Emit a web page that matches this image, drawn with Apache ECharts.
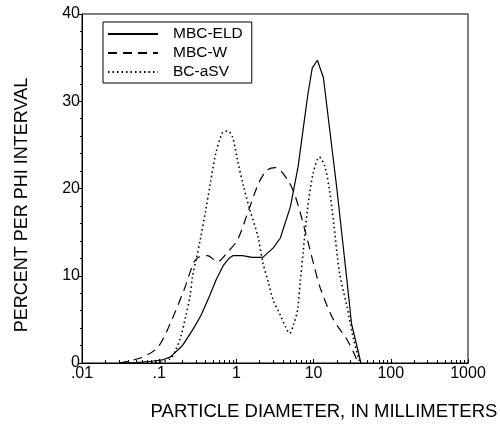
<!DOCTYPE html>
<html>
<head>
<meta charset="utf-8">
<script src="https://cdn.jsdelivr.net/npm/echarts@6/dist/echarts.min.js"></script>
<style>html,body{margin:0;padding:0;background:#fff;}#c{width:500px;height:431px;}</style>
</head>
<body>
<div id="c"></div>
<script>
const seriesNames = ['MBC-ELD', 'MBC-W', 'BC-aSV'];
const eldX = [0.03,0.05,0.08,0.11,0.14,0.2,0.28,0.35,0.45,0.55,0.68,0.8,0.9,1.2,1.6,2.2,3,3.7,5,6.3,7.5,8.5,9.6,11.2,13.4,20,27,31,41];
const eldY = [0,0.05,0.2,0.35,0.7,2,4,5.5,7.7,9.6,11.2,12,12.3,12.3,12.1,12.1,13.2,14.3,17.9,22.5,27.5,31,33.8,34.7,32.7,20,9.5,4.5,0];
const wX = [0.03,0.058,0.096,0.14,0.21,0.28,0.32,0.42,0.57,0.75,1.03,1.4,1.94,2.5,3.2,4.6,5.8,7.9,9.9,12.2,18,27,33,38];
const wY = [0,0.6,1.8,4.6,8.4,11.5,12.1,12.3,11.6,12.6,14.1,17.2,20.6,22.1,22.4,21,19.1,14.9,11.5,8.6,5,2.7,1.2,0];
const sX = [0.04,0.1,0.14,0.16,0.19,0.22,0.25,0.27,0.3,0.34,0.4,0.46,0.54,0.66,0.77,0.89,1.03,1.24,1.5,1.9,2.2,2.6,3.0,3.7,4.3,4.9,5.5,6.2,6.7,7.3,8.3,9.9,11.9,14,16,18,21.7,27,33,40];
const sY = [0,0.1,0.5,1.3,3,5.3,7.6,9.9,11.8,14.1,17.5,20.6,24,26.4,26.6,25.9,23.3,20.2,17.5,14.5,11.5,9.2,7.2,5.5,4.2,3.4,4.4,6.1,9.2,12.6,17.5,21.8,23.6,22.5,19.9,16.4,10.3,6.5,2.7,0];
const xMajor = [0.01,0.1,1,10,100,1000];
const xMajorLabels = ['.01','.1','1','10','100','1000'];
const xMinor = [];
for (let d = 0.01; d < 1000; d *= 10) { for (let k = 2; k <= 9; k++) xMinor.push(+(d * k).toPrecision(3)); }
const yTitle = 'PERCENT PER PHI INTERVAL';
const xTitle = 'PARTICLE DIAMETER, IN MILLIMETERS';

const pair = (xs, ys) => xs.map((x, i) => [x, ys[i]]);
const font = '"Liberation Sans", Arial, sans-serif';

const chart = echarts.init(document.getElementById('c'), null, {renderer: 'canvas'});
chart.setOption({
  animation: false,
  backgroundColor: '#fff',
  grid: {show: true, borderColor: '#000', borderWidth: 1, left: 82, right: 32, top: 14, bottom: 68},
  legend: {
    orient: 'vertical', left: 103, top: 22,
    data: seriesNames,
    borderColor: '#000', borderWidth: 1, borderRadius: 0,
    padding: [4, 9, 3, 4], itemGap: 3, itemWidth: 50, itemHeight: 15,
    itemStyle: {opacity: 0, borderWidth: 0},
    textStyle: {fontFamily: font, fontSize: 15.5, color: '#000', padding: [0, 0, 0, 10]}
  },
  xAxis: [{
    type: 'log', logBase: 10, min: 0.01, max: 1000,
    axisLine: {show: true, lineStyle: {color: '#000', width: 1}},
    axisTick: {show: true, inside: true, length: 4, customValues: xMajor, lineStyle: {color: '#000'}},
    axisLabel: {show: true, customValues: xMajor, fontFamily: font, fontSize: 16, color: '#000', margin: 3,
      formatter: v => { const i = xMajor.findIndex(m => Math.abs(Math.log10(m) - Math.log10(v)) < 1e-6); return i >= 0 ? xMajorLabels[i] : ''; }},
    splitLine: {show: false}
  }, {
    type: 'log', logBase: 10, min: 0.01, max: 1000, position: 'bottom',
    axisLine: {show: false},
    axisTick: {show: true, inside: true, length: 3, customValues: xMinor, lineStyle: {color: '#000'}},
    axisLabel: {show: false},
    splitLine: {show: false}
  }],
  yAxis: {
    type: 'value', min: 0, max: 40, interval: 10,
    axisLine: {show: true, lineStyle: {color: '#000', width: 1}},
    axisTick: {show: true, length: 3, lineStyle: {color: '#000'}},
    minorTick: {show: true, splitNumber: 5, length: 2, lineStyle: {color: '#000'}},
    axisLabel: {fontFamily: font, fontSize: 16, color: '#000', margin: 2},
    splitLine: {show: false}
  },
  graphic: [
    {type: 'text', x: 22, y: 205, rotation: Math.PI / 2,
      style: {text: yTitle, fontFamily: font, fontSize: 18, fill: '#000', align: 'center', verticalAlign: 'middle'}},
    {type: 'text', x: 324, y: 412,
      style: {text: xTitle, fontFamily: font, fontSize: 18.5, fill: '#000', align: 'center', verticalAlign: 'middle'}}
  ],
  series: [
    {name: seriesNames[0], type: 'line', data: pair(eldX, eldY), showSymbol: false, symbol: 'none',
      lineStyle: {color: '#000', width: 1.2, type: 'solid'}, itemStyle: {color: '#000'}},
    {name: seriesNames[1], type: 'line', data: pair(wX, wY), showSymbol: false, symbol: 'none', smooth: 0.3,
      lineStyle: {color: '#000', width: 1.2, type: [9, 6]}, itemStyle: {color: '#000'}},
    {name: seriesNames[2], type: 'line', data: pair(sX, sY), showSymbol: false, symbol: 'none', smooth: 0.3,
      lineStyle: {color: '#000', width: 1.6, type: [1.5, 3]}, itemStyle: {color: '#000'}}
  ]
});
</script>
</body>
</html>
